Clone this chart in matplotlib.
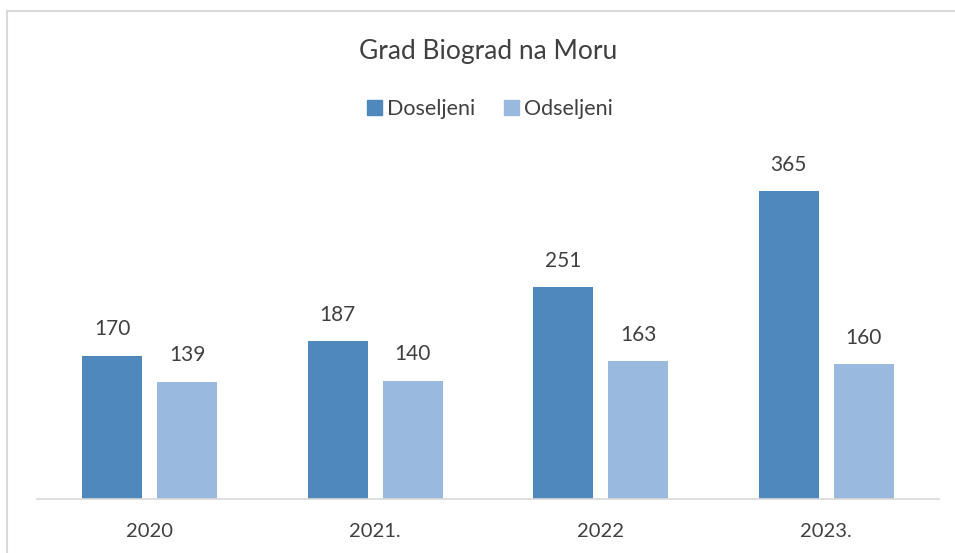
import numpy as np
import matplotlib.pyplot as plt
from matplotlib.lines import Line2D
from matplotlib.patches import Patch

years = ['2020', '2021.', '2022', '2023.']
doseljeni = [170, 187, 251, 365]
odseljeni = [139, 140, 163, 160]

plt.rcParams['font.family'] = ['Lato', 'DejaVu Sans']
txt = '#404040'
c_dos = '#4F88BC'
c_ods = '#99B9DF'

fig = plt.figure(figsize=(9.55, 5.53), dpi=100)
ax = fig.add_axes([37 / 955, 1 - 499 / 553, 902 / 955, 337.5 / 553])

x = np.arange(len(years))
w = 0.266
off = 0.166
b1 = ax.bar(x - off, doseljeni, w, color=c_dos, label='Doseljeni')
b2 = ax.bar(x + off, odseljeni, w, color=c_ods, label='Odseljeni')

for bars in (b1, b2):
    for rect in bars:
        ax.annotate(f'{rect.get_height():.0f}',
                    (rect.get_x() + rect.get_width() / 2, rect.get_height()),
                    xytext=(0, 19), textcoords='offset points',
                    ha='center', va='center', fontsize=15, color=txt)

ax.set_xlim(-0.5, len(years) - 0.5)
ax.set_ylim(0, 400)
ax.set_xticks(x)
ax.set_xticklabels(years, fontsize=14.5, color=txt)
ax.tick_params(axis='x', length=0, pad=17)
ax.set_yticks([])
for s in ['top', 'right', 'left']:
    ax.spines[s].set_visible(False)
ax.spines['bottom'].set_color('#D9D9D9')
ax.spines['bottom'].set_linewidth(1.2)

fig.text(488 / 955, 1 - 51 / 553, 'Grad Biograd na Moru', ha='center', va='center',
         fontsize=19, color=txt)

handles = [Patch(color=c_dos), Patch(color=c_ods)]
fig.legend(handles, ['Doseljeni', 'Odseljeni'], loc='center',
           bbox_to_anchor=(490 / 955, 1 - 109 / 553), ncol=2, frameon=False,
           fontsize=15.5, labelcolor=txt, handlelength=0.7, handleheight=0.7,
           handletextpad=0.25, columnspacing=1.3)

# chart border (top and left edges visible)
fig.add_artist(Line2D([7 / 955, 7 / 955], [0, 1 - 11 / 553], color='#D9D9D9', lw=1.5,
                      transform=fig.transFigure))
fig.add_artist(Line2D([7 / 955, 1], [1 - 11 / 553, 1 - 11 / 553], color='#D9D9D9', lw=1.5,
                      transform=fig.transFigure))

fig.savefig('out.png', dpi=100)
